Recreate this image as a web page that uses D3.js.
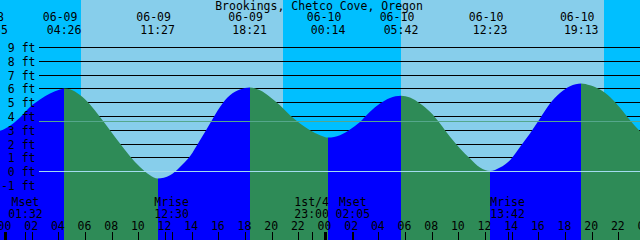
<!DOCTYPE html>
<html><head><meta charset="utf-8">
<script src="https://cdn.jsdelivr.net/npm/d3@7"></script>
<style>
body{margin:0;overflow:hidden;background:#fff}
svg{display:block}
text{font-family:"DejaVu Sans Mono",monospace;font-size:11.5px;fill:#000}
</style>
</head><body><svg id="c" width="640" height="240"></svg>
<script>
const title = "Brookings, Chetco Cove, Oregon";
// hours since 06-09 00:00
const tideHours = [-1.08,-0.375,0.375,1.125,1.875,2.625,3.375,4.125,4.433,4.875,5.625,6.375,7.125,7.875,8.625,9.375,10.125,10.875,11.45,12.375,13.125,13.875,14.625,15.375,16.125,16.875,17.625,18.35,19.125,19.875,20.625,21.375,22.125,22.875,23.625,24.233,25.125,25.875,26.625,27.375,28.125,28.875,29.7,30.375,31.125,31.875,32.625,33.375,34.125,34.875,35.625,36.383,37.125,37.875,38.625,39.375,40.125,40.875,41.625,42.375,43.217,43.875,44.625,45.375,46.125,46.875,47.625];
const tideFeet  = [2.80,2.93,3.30,3.89,4.66,5.20,5.63,5.92,6.00,5.94,5.52,4.84,3.93,2.97,2.00,1.09,0.31,-0.29,-0.52,-0.29,0.31,1.09,2.25,3.46,4.66,5.50,5.92,6.07,5.87,5.38,4.78,4.06,3.46,2.97,2.61,2.44,2.61,3.02,3.57,4.30,4.90,5.31,5.46,5.34,4.90,4.30,3.46,2.49,1.64,0.92,0.27,0.02,0.27,0.80,1.76,2.73,3.82,4.90,5.67,6.16,6.36,6.23,5.92,5.38,4.60,3.70,2.90];

const extremeHours = [-1.08, 4.433, 11.45, 18.35, 24.233, 29.7, 36.383, 43.217];
const extremeDates = ["06-08","06-09","06-09","06-09","06-10","06-10","06-10","06-10"];
const extremeTimes = ["22:55","04:26","11:27","18:21","00:14","05:42","12:23","19:13"];

const nightStarts = [-1, 20.87, 44.93];
const nightEnds   = [5.70, 29.70, 49];

const levelFeet = [9,8,7,6,5,4,3,2,1,0,-1];
const levelLabels = ["9 ft","8 ft","7 ft","6 ft","5 ft","4 ft","3 ft","2 ft","1 ft","0 ft","-1 ft"];
const mslFeet = 3.67;

const hourTicks = [0,2,4,6,8,10,12,14,16,18,20,22,24,26,28,30,32,34,36,38,40,42,44,46,48];
const hourLabels = ["00","02","04","06","08","10","12","14","16","18","20","22","00","02","04","06","08","10","12","14","16","18","20","22","00"];
const midnightHours = [0,24,48];

const moonHours = [1.533, 12.5, 23.0, 26.083, 37.7];
const moonNames = ["Mset","Mrise","1st/4","Mset","Mrise"];
const moonTimes = ["01:32","12:30","23:00","02:05","13:42"];

const W = 640, H = 240;
const C = {day:"#87CEEB", night:"#00BFFF", flood:"#0000FF", ebb:"#2E8B57", msl:"#55a78c", datum:"#a3dcef"};

const x = d3.scaleLinear().domain([0,48]).range([5,645]);
const y = d3.scaleLinear().domain([0,9]).range([171.2,47]);
const svg = d3.select("#c");

// backgrounds
svg.append("rect").attr("width",W).attr("height",H).attr("fill",C.day);
svg.selectAll("rect.night").data(nightStarts).join("rect").attr("class","night")
  .attr("x",(d)=>Math.round(x(d))).attr("y",0)
  .attr("width",(d,i)=>Math.round(x(nightEnds[i]))-Math.round(x(d))).attr("height",H)
  .attr("fill",C.night);

// level lines
svg.selectAll("line.lvl").data(levelFeet).join("line").attr("class","lvl")
  .attr("x1",39).attr("x2",W)
  .attr("y1",d=>Math.round(y(d))+0.5).attr("y2",d=>Math.round(y(d))+0.5)
  .attr("stroke","#000").attr("stroke-width",1);

// tide fill
const pts = tideHours.map((h,i)=>[h,tideFeet[i]]);
const area = d3.area().x(d=>x(d[0])).y0(H).y1(d=>y(d[1])).curve(d3.curveMonotoneX);
svg.append("clipPath").attr("id","tc").append("path").attr("d",area(pts));
const segs = extremeHours.map((h,i)=>({a:h, b: i<extremeHours.length-1?extremeHours[i+1]:50, rising: tideFeet[tideHours.indexOf(h)] < 3}));
const g = svg.append("g").attr("clip-path","url(#tc)");
g.selectAll("rect").data([{a:-3,b:extremeHours[0],rising:false}].concat(segs)).join("rect")
  .attr("x",d=>x(d.a)).attr("y",0).attr("width",d=>x(d.b)-x(d.a)).attr("height",H)
  .attr("fill",d=>d.rising?C.flood:C.ebb).attr("shape-rendering","crispEdges");

// msl and datum lines
svg.append("line").attr("x1",39).attr("x2",W).attr("y1",Math.round(y(mslFeet))+0.5).attr("y2",Math.round(y(mslFeet))+0.5)
  .attr("stroke",C.msl);
svg.append("line").attr("x1",39).attr("x2",W).attr("y1",Math.round(y(0))+0.5).attr("y2",Math.round(y(0))+0.5)
  .attr("stroke",C.datum);

// y labels
svg.selectAll("text.yl").data(levelFeet).join("text").attr("class","yl")
  .attr("x",35.5).attr("y",d=>Math.round(y(d))+4.5).attr("text-anchor","end")
  .text((d,i)=>levelLabels[i]);

// title
svg.append("text").attr("x",319).attr("y",9.5).attr("text-anchor","middle").text(title);

// extreme labels
svg.selectAll("text.ed").data(extremeHours).join("text").attr("class","ed")
  .attr("x",d=>x(d)-4).attr("y",21).attr("text-anchor","middle").text((d,i)=>extremeDates[i]);
svg.selectAll("text.et").data(extremeHours).join("text").attr("class","et")
  .attr("x",d=>x(d)).attr("y",34).attr("text-anchor","middle").text((d,i)=>extremeTimes[i]);

// moon labels
svg.selectAll("text.mn").data(moonHours).join("text").attr("class","mn")
  .attr("x",d=>x(d)).attr("y",206).attr("text-anchor","middle").text((d,i)=>moonNames[i]);
svg.selectAll("text.mt").data(moonHours).join("text").attr("class","mt")
  .attr("x",d=>x(d)).attr("y",217.5).attr("text-anchor","middle").text((d,i)=>moonTimes[i]);
svg.selectAll("line.mk").data(moonHours).join("line").attr("class","mk")
  .attr("x1",d=>Math.round(x(d))+0.5).attr("x2",d=>Math.round(x(d))+0.5).attr("y1",232).attr("y2",H)
  .attr("stroke","#000");

// hour axis
svg.selectAll("text.hl").data(hourTicks).join("text").attr("class","hl")
  .attr("x",d=>x(d)-0.5).attr("y",229.5).attr("text-anchor","middle").text((d,i)=>hourLabels[i]);
svg.selectAll("line.ht").data(hourTicks).join("line").attr("class","ht")
  .attr("x1",d=>Math.round(x(d))+0.5).attr("x2",d=>Math.round(x(d))+0.5).attr("y1",232).attr("y2",H)
  .attr("stroke","#000");
svg.selectAll("rect.md").data(midnightHours).join("rect").attr("class","md")
  .attr("x",d=>Math.round(x(d))-1).attr("y",232).attr("width",3).attr("height",8).attr("fill","#000");
</script>
</body></html>
